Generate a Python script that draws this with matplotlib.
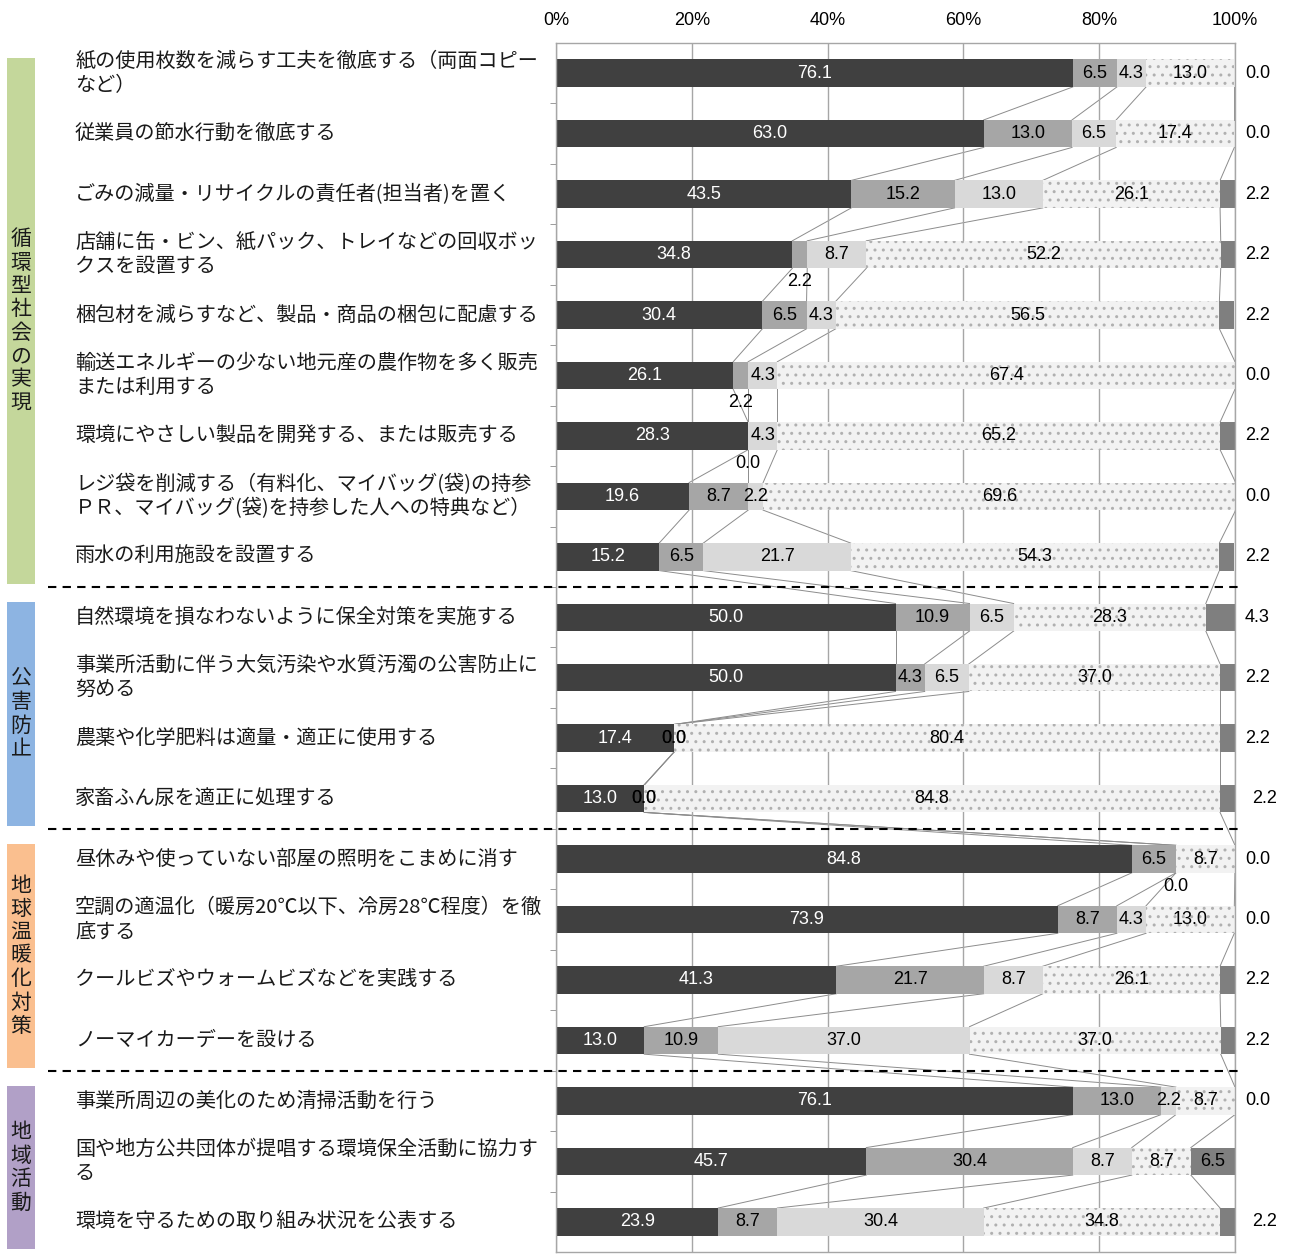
"""Stacked bar chart of environmental measures taken by businesses."""

from matplotlib import pyplot as plt
from matplotlib import transforms
from matplotlib.patches import Rectangle
import numpy as np

plt.rcParams['font.family'] = ['Noto Sans CJK JP', 'DejaVu Sans']
plt.rcParams['hatch.linewidth'] = 1.0

categories = [
    "紙の使用枚数を減らす工夫を徹底する（両面コピー\nなど）",
    "従業員の節水行動を徹底する",
    "ごみの減量・リサイクルの責任者(担当者)を置く",
    "店舗に缶・ビン、紙パック、トレイなどの回収ボッ\nクスを設置する",
    "梱包材を減らすなど、製品・商品の梱包に配慮する",
    "輸送エネルギーの少ない地元産の農作物を多く販売\nまたは利用する",
    "環境にやさしい製品を開発する、または販売する",
    "レジ袋を削減する（有料化、マイバッグ(袋)の持参\nＰＲ、マイバッグ(袋)を持参した人への特典など）",
    "雨水の利用施設を設置する",
    "自然環境を損なわないように保全対策を実施する",
    "事業所活動に伴う大気汚染や水質汚濁の公害防止に\n努める",
    "農薬や化学肥料は適量・適正に使用する",
    "家畜ふん尿を適正に処理する",
    "昼休みや使っていない部屋の照明をこまめに消す",
    "空調の適温化（暖房20℃以下、冷房28℃程度）を徹\n底する",
    "クールビズやウォームビズなどを実践する",
    "ノーマイカーデーを設ける",
    "事業所周辺の美化のため清掃活動を行う",
    "国や地方公共団体が提唱する環境保全活動に協力す\nる",
    "環境を守るための取り組み状況を公表する",
]

s1 = [76.1, 63.0, 43.5, 34.8, 30.4, 26.1, 28.3, 19.6, 15.2, 50.0,
      50.0, 17.4, 13.0, 84.8, 73.9, 41.3, 13.0, 76.1, 45.7, 23.9]
s2 = [6.5, 13.0, 15.2, 2.2, 6.5, 2.2, 0.0, 8.7, 6.5, 10.9,
      4.3, 0.0, 0.0, 6.5, 8.7, 21.7, 10.9, 13.0, 30.4, 8.7]
s3 = [4.3, 6.5, 13.0, 8.7, 4.3, 4.3, 4.3, 2.2, 21.7, 6.5,
      6.5, 0.0, 0.0, 0.0, 4.3, 8.7, 37.0, 2.2, 8.7, 30.4]
s4 = [13.0, 17.4, 26.1, 52.2, 56.5, 67.4, 65.2, 69.6, 54.3, 28.3,
      37.0, 80.4, 84.8, 8.7, 13.0, 26.1, 37.0, 8.7, 8.7, 34.8]
s5 = [0.0, 0.0, 2.2, 2.2, 2.2, 0.0, 2.2, 0.0, 2.2, 4.3,
      2.2, 2.2, 2.2, 0.0, 0.0, 2.2, 2.2, 0.0, 6.5, 2.2]

groups = ["循環型社会の実現", "公害防止", "地球温暖化対策", "地域活動"]
group_rows = [(0, 8), (9, 12), (13, 16), (17, 19)]
group_colors = ["#c4d79b", "#8db4e2", "#fabf8f", "#b1a0c7"]

tick_values = [0, 20, 40, 60, 80, 100]
tick_labels = ["0%", "20%", "40%", "60%", "80%", "100%"]

# labels that Excel pushed below the bar: (row, series)
moved_labels = [(3, 1), (5, 1), (6, 1), (13, 2)]
# rows whose outside label sits a bit further right
far_right = [12, 19]

series = [s1, s2, s3, s4, s5]
colors = ["#404040", "#a6a6a6", "#d9d9d9", "#f2f2f2", "#7f7f7f"]
num_font = ['Liberation Sans', 'DejaVu Sans']

W, H = 1295, 1260
fig = plt.figure(figsize=(W / 100, H / 100), dpi=100)
ax = fig.add_axes([556 / W, 1 - 1252 / H, (1235 - 556) / W, (1252 - 43) / H])

n = len(categories)
y = np.arange(n)
bh = 0.455
data = np.array(series)
cum = np.cumsum(data, axis=0)
left = np.vstack([np.zeros(n), cum[:-1]])

for k in range(len(series)):
    if k == 3:
        ax.barh(y, data[k], bh, left=left[k], color=colors[k],
                edgecolor="#b0b0b0", linewidth=0, hatch="..", zorder=2)
    else:
        ax.barh(y, data[k], bh, left=left[k], color=colors[k],
                linewidth=0, zorder=2)

# series lines between neighbouring bars
for i in range(n - 1):
    for k in range(4):
        ax.plot([cum[k][i], cum[k][i + 1]], [i + bh / 2, i + 1 - bh / 2],
                color="#8c8c8c", lw=0.7, zorder=1.5)

# data labels
for i in range(n):
    for k in range(len(series)):
        v = data[k][i]
        xc = left[k][i] + v / 2
        yc = i
        txt_color = "white" if k == 0 else "black"
        if k == 4 and v < 5:
            xc = 104.3 if i in far_right else 103.3
        if (i, k) in moved_labels:
            yc = i + 0.45
        ax.text(xc, yc, f"{v:.1f}", ha="center", va="center", fontsize=13,
                color=txt_color, family=num_font, zorder=4, clip_on=False)

ax.set_xlim(0, 100)
ax.set_ylim(n - 0.5, -0.5)
ax.xaxis.tick_top()
ax.set_xticks(tick_values)
ax.set_xticklabels(tick_labels, family=num_font, fontsize=13)
ax.tick_params(axis="x", length=0, pad=10)
ax.set_yticks([])
ax.set_yticks(np.arange(n - 1) + 0.5, minor=True)
ax.tick_params(axis="y", which="minor", length=4, color="#8c8c8c",
               direction="out")
ax.grid(axis="x", color="#a6a6a6", lw=1, zorder=0)
for sp in ax.spines.values():
    sp.set_color("#a6a6a6")
    sp.set_linewidth(1)

trans = transforms.blended_transform_factory(fig.transFigure, ax.transData)

for i, label in enumerate(categories):
    fig.text(75 / W, i, label, transform=trans, ha="left", va="center",
             fontsize=14.5, color="#1a1a1a", linespacing=1.2)

for (name, (r0, r1), col) in zip(groups, group_rows, group_colors):
    top = r0 - 0.5 + 0.25
    bottom = r1 + 0.5 - 0.05
    fig.add_artist(Rectangle((7 / W, top), 28 / W, bottom - top,
                             transform=trans, color=col, lw=0, zorder=1))
    fig.text(21 / W, (top + bottom) / 2, "\n".join(name), transform=trans,
             ha="center", va="center", fontsize=15, linespacing=1.08,
             color="#1a1a1a", zorder=3)

for r in [8.5, 12.5, 16.5]:
    ax.plot([48 / W, 1240 / W], [r, r], transform=trans, color="black",
            lw=1.5, ls=(0, (4, 3)), clip_on=False, zorder=5)

fig.savefig("out.png", dpi=100)
